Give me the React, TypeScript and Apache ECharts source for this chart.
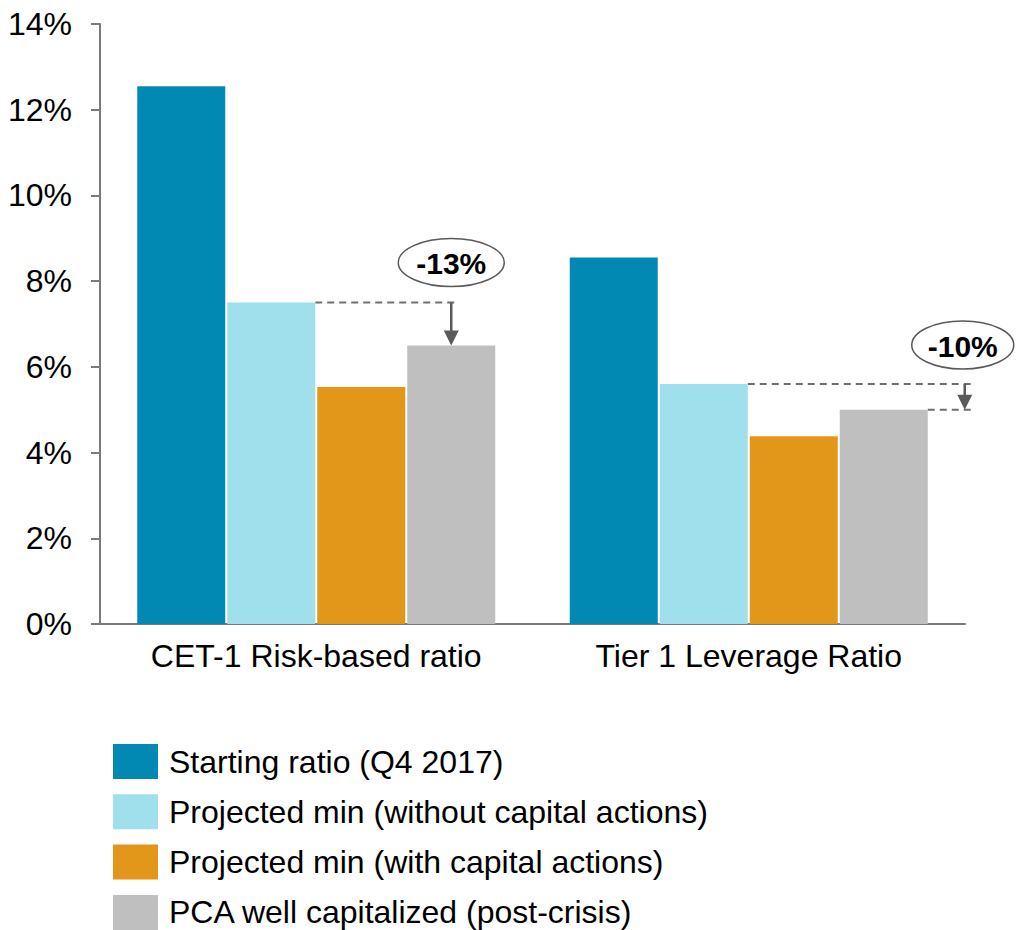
import React, { useEffect, useRef } from "react";
import * as echarts from "echarts";

const categories = ["CET-1 Risk-based ratio", "Tier 1 Leverage Ratio"];
const startingRatio = [12.55, 8.55];
const projNoCapital = [7.5, 5.6];
const projWithCapital = [5.53, 4.38];
const pcaWellCap = [6.5, 5.0];
const seriesNames = [
  "Starting ratio (Q4 2017)",
  "Projected min (without capital actions)",
  "Projected min (with capital actions)",
  "PCA well capitalized (post-crisis)",
];
const seriesColors = ["#0189b4", "#9fe0ec", "#e3971a", "#bfbfbf"];
const yTicks = [0, 2, 4, 6, 8, 10, 12, 14];
const annotationLabels = ["-13%", "-10%"];

const FONT = "'Liberation Sans', Arial, Helvetica, sans-serif";
const BAR_W = 88;
const BAR_GAP = 2;

export default function App() {
  const ref = useRef<HTMLDivElement>(null);
  useEffect(() => {
    document.body.style.margin = "0";
    const chart = echarts.init(ref.current!, null, { renderer: "svg" });
    const data = [startingRatio, projNoCapital, projWithCapital, pcaWellCap];
    chart.setOption({
      animation: false,
      grid: { left: 100, right: 51, top: 24, bottom: 306 },
      legend: {
        orient: "vertical",
        left: 108,
        top: 739,
        height: 200,
        itemWidth: 45,
        itemHeight: 35,
        itemGap: 15.3,
        icon: "rect",
        textStyle: { fontSize: 32, color: "#000", fontFamily: FONT, padding: [0, 0, 0, 6] },
        data: seriesNames,
      },
      xAxis: {
        type: "category",
        data: categories,
        axisLine: { lineStyle: { color: "#7a7a7a", width: 2 } },
        axisTick: { show: false },
        axisLabel: { fontSize: 32, color: "#000", fontFamily: FONT, margin: 16 },
      },
      yAxis: {
        type: "value",
        min: yTicks[0],
        max: yTicks[yTicks.length - 1],
        interval: 2,
        splitLine: { show: false },
        axisLine: { show: true, lineStyle: { color: "#7a7a7a", width: 2 } },
        axisTick: { show: true, length: 9, lineStyle: { color: "#7a7a7a", width: 2 } },
        axisLabel: { fontSize: 32, color: "#000", fontFamily: FONT, margin: 28, formatter: "{value}%" },
      },
      series: seriesNames.map((name, i) => ({
        name,
        type: "bar",
        data: data[i],
        barWidth: BAR_W,
        barGap: (BAR_GAP / BAR_W) * 100 + "%",
        itemStyle: { color: seriesColors[i] },
      })),
    });

    const px = (ci: number, v: number) =>
      chart.convertToPixel({ xAxisIndex: 0, yAxisIndex: 0 }, [categories[ci], v]) as number[];

    const graphics: any[] = [];
    const dashStyle = { stroke: "#6f6f6f", lineWidth: 2, lineDash: [7, 5] };
    const arrowColor = "#5a5a5a";
    const addArrow = (x: number, y1: number, y2: number) => {
      const head = 15;
      graphics.push({
        type: "line",
        shape: { x1: x, y1, x2: x, y2: y2 - head + 1 },
        style: { stroke: arrowColor, lineWidth: 2.5 },
      });
      graphics.push({
        type: "polygon",
        shape: { points: [[x - 7.5, y2 - head], [x + 7.5, y2 - head], [x, y2]] },
        style: { fill: arrowColor },
      });
    };
    const addBadge = (cx: number, cy: number, rx: number, ry: number, label: string) => {
      graphics.push({
        type: "ellipse",
        shape: { cx, cy, rx, ry },
        style: { fill: "#fff", stroke: "#5a5a5a", lineWidth: 1.5 },
      });
      graphics.push({
        type: "text",
        x: cx,
        y: cy + 1,
        style: {
          text: label,
          fontSize: 30,
          fontWeight: "bold",
          fontFamily: FONT,
          fill: "#000",
          align: "center",
          verticalAlign: "middle",
        },
      });
    };

    categories.forEach((_, ci) => {
      const [cx, yFrom] = px(ci, projNoCapital[ci]);
      const yTo = px(ci, pcaWellCap[ci])[1];
      const start = cx - (4 * BAR_W + 3 * BAR_GAP) / 2;
      const lightRight = start + 2 * BAR_W + BAR_GAP;
      const greyLeft = start + 3 * (BAR_W + BAR_GAP);
      const greyCenter = greyLeft + BAR_W / 2;
      const greyRight = greyLeft + BAR_W;
      if (ci === 0) {
        graphics.push({
          type: "line",
          shape: { x1: lightRight, y1: yFrom, x2: greyCenter + 8, y2: yFrom },
          style: dashStyle,
        });
        addArrow(greyCenter, yFrom, yTo);
        addBadge(greyCenter, yFrom - 40, 53, 24, annotationLabels[ci]);
      } else {
        const endX = greyRight + 45;
        const arrowX = greyRight + 37;
        graphics.push({
          type: "line",
          shape: { x1: lightRight, y1: yFrom, x2: endX, y2: yFrom },
          style: dashStyle,
        });
        graphics.push({
          type: "line",
          shape: { x1: greyRight, y1: yTo, x2: endX, y2: yTo },
          style: dashStyle,
        });
        addArrow(arrowX, yFrom, yTo);
        addBadge(arrowX - 2, yFrom - 39, 51, 24, annotationLabels[ci]);
      }
    });
    chart.setOption({ graphic: { elements: graphics } });
    return () => chart.dispose();
  }, []);
  return <div ref={ref} style={{ position: "absolute", left: 0, top: 0, width: 1016, height: 930 }} />;
}
